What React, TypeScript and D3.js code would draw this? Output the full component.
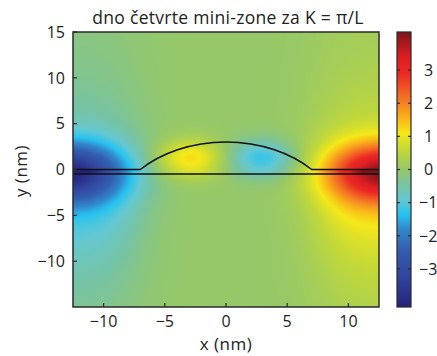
import React, { useMemo } from "react";
import * as d3 from "d3";

// ---- axes / ticks ----
const xDomain = [-12.5, 12.5];
const yDomain = [-15, 15];
const xTicks = [-10, -5, 0, 5, 10];
const yTicks = [-10, -5, 0, 5, 10, 15];
const cbDomain = [-4.15, 4.15];
const cbTicks = [-3, -2, -1, 0, 1, 2, 3];

// ---- colormap ----
const cmapValues = [-4.15, -3.2, -2.4, -1.8, -1.35, -0.9, -0.45, 0, 0.55, 1.1, 1.5, 2.0, 2.4, 2.9, 3.4, 4.15];
const cmapColors = [
  "#232378", "#3246a0", "#325faf", "#3287cd", "#28c3f0", "#64c8d2", "#78c3a0", "#96c869",
  "#bed73c", "#f5e819", "#fab919", "#f58223", "#f05a23", "#eb2823", "#dc1e23", "#7d1419",
];

// ---- field lobes (right half; the left half is the antisymmetric mirror) ----
const lobeKind = ["gauss", "tail", "gauss"];
const lobeX = [13, 13, 2.9];
const lobeY = [-0.3, -3, 1.2];
const lobeAmp = [3.0, 1.2, -1.25];
const lobeSx = [4.6, 6, 2.8];
const lobeSy = [3.1, 8, 2.0];

// thin layer between the two lines
const layerTop = 0;
const layerBottom = -0.5;
const layerGain = 1.15;

// lens (dome) outline
const lensHalfWidth = 7;
const lensHeight = 3;

const W = 437, H = 356;
const M = { left: 73, right: 379, top: 32, bottom: 307 };
const CB = { left: 397, right: 411 };

function lobe(kind: string, dx: number, dy: number, sx: number, sy: number) {
  if (kind === "tail") {
    return Math.exp(-Math.pow(Math.abs(dx / sx), 3)) / (1 + (dy / sy) ** 2);
  }
  return Math.exp(-((dx / sx) ** 2) - (dy / sy) ** 2);
}

function field(x: number, y: number) {
  let f = 0;
  for (let k = 0; k < lobeKind.length; k++) {
    const dy = y - lobeY[k];
    f += lobeAmp[k] * (lobe(lobeKind[k], x - lobeX[k], dy, lobeSx[k], lobeSy[k]) -
      lobe(lobeKind[k], x + lobeX[k], dy, lobeSx[k], lobeSy[k]));
  }
  if (y <= layerTop && y >= layerBottom) f *= layerGain;
  return f;
}

const FONT = "'Open Sans', 'Noto Sans', sans-serif";
const fmt = (v: number) => (v < 0 ? "\u2212" + Math.abs(v) : String(v));

export default function App() {
  const x = d3.scaleLinear().domain(xDomain).range([M.left, M.right]);
  const y = d3.scaleLinear().domain(yDomain).range([M.bottom, M.top]);
  const cb = d3.scaleLinear().domain(cbDomain).range([M.bottom, M.top]);
  const color = d3.scaleLinear<string>().domain(cmapValues).range(cmapColors)
    .interpolate(d3.interpolateRgb).clamp(true);

  const img = useMemo(() => {
    const w = Math.round(M.right - M.left), h = Math.round(M.bottom - M.top);
    const c = document.createElement("canvas");
    c.width = w; c.height = h;
    const ctx = c.getContext("2d")!;
    const data = ctx.createImageData(w, h);
    for (let j = 0; j < h; j++) {
      const yv = y.invert(M.top + j + 0.5);
      for (let i = 0; i < w; i++) {
        const xv = x.invert(M.left + i + 0.5);
        const col = d3.rgb(color(field(xv, yv)));
        const p = (j * w + i) * 4;
        data.data[p] = col.r; data.data[p + 1] = col.g; data.data[p + 2] = col.b; data.data[p + 3] = 255;
      }
    }
    ctx.putImageData(data, 0, 0);
    return { url: c.toDataURL(), w, h };
  }, []);

  const R = (lensHalfWidth ** 2 + lensHeight ** 2) / (2 * lensHeight);
  const rx = x(R) - x(0);
  const ry = y(0) - y(R);
  const upper = `M${x(xDomain[0])},${y(0)} L${x(-lensHalfWidth)},${y(0)} A${rx},${ry} 0 0 1 ${x(lensHalfWidth)},${y(0)} L${x(xDomain[1])},${y(0)}`;
  const lower = `M${x(xDomain[0])},${y(layerBottom)} L${x(xDomain[1])},${y(layerBottom)}`;

  const gradStops = cmapValues.map((v, i) => ({
    off: (v - cbDomain[0]) / (cbDomain[1] - cbDomain[0]),
    c: cmapColors[i],
  }));

  return (
    <svg width={W} height={H} style={{ position: "absolute", left: 0, top: 0 }} fontFamily={FONT}>
      <defs>
        <linearGradient id="cbgrad" x1="0" y1="1" x2="0" y2="0">
          {gradStops.map((s, i) => <stop key={i} offset={s.off} stopColor={s.c} />)}
        </linearGradient>
      </defs>
      <rect width={W} height={H} fill="#fff" />
      <image href={img.url} x={M.left} y={M.top} width={img.w} height={img.h} preserveAspectRatio="none" />
      <path d={upper} fill="none" stroke="#111" strokeWidth={1.5} />
      <path d={lower} fill="none" stroke="#111" strokeWidth={1.5} />
      <rect x={M.left} y={M.top} width={M.right - M.left} height={M.bottom - M.top} fill="none" stroke="#2a2a2a" strokeWidth={1.5} />
      {yTicks.map(t => (
        <g key={"y" + t}>
          <line x1={M.left} x2={M.left + 4} y1={y(t)} y2={y(t)} stroke="#2a2a2a" strokeWidth={1.2} />
          <text x={65} y={y(t)} dy="0.36em" textAnchor="end" fontSize={16} fill="#222">{fmt(t)}</text>
        </g>
      ))}
      {xTicks.map(t => (
        <g key={"x" + t}>
          <line x1={x(t)} x2={x(t)} y1={M.bottom} y2={M.bottom - 4} stroke="#2a2a2a" strokeWidth={1.2} />
          <text x={x(t)} y={327} textAnchor="middle" fontSize={16} fill="#222">{fmt(t)}</text>
        </g>
      ))}
      <text x={228} y={24} textAnchor="middle" fontSize={17.5} letterSpacing={0.3} fill="#222">dno četvrte mini-zone za K = π/L</text>
      <text x={226} y={350} textAnchor="middle" fontSize={17} letterSpacing={0.5} fill="#222">x (nm)</text>
      <text transform={`translate(27,171) rotate(-90)`} textAnchor="middle" fontSize={17} letterSpacing={0.5} fill="#222">y (nm)</text>
      <rect x={CB.left} y={M.top} width={CB.right - CB.left} height={M.bottom - M.top} fill="url(#cbgrad)" stroke="#2a2a2a" strokeWidth={1.2} />
      {cbTicks.map(t => (
        <g key={"c" + t}>
          <line x1={CB.left} x2={CB.left + 3} y1={cb(t)} y2={cb(t)} stroke="#2a2a2a" strokeWidth={1.2} />
          <line x1={CB.right - 3} x2={CB.right} y1={cb(t)} y2={cb(t)} stroke="#2a2a2a" strokeWidth={1.2} />
          <text x={t < 0 ? 419 : 424} y={cb(t)} dy="0.36em" textAnchor="start" fontSize={16} fill="#222">{fmt(t)}</text>
        </g>
      ))}
    </svg>
  );
}
